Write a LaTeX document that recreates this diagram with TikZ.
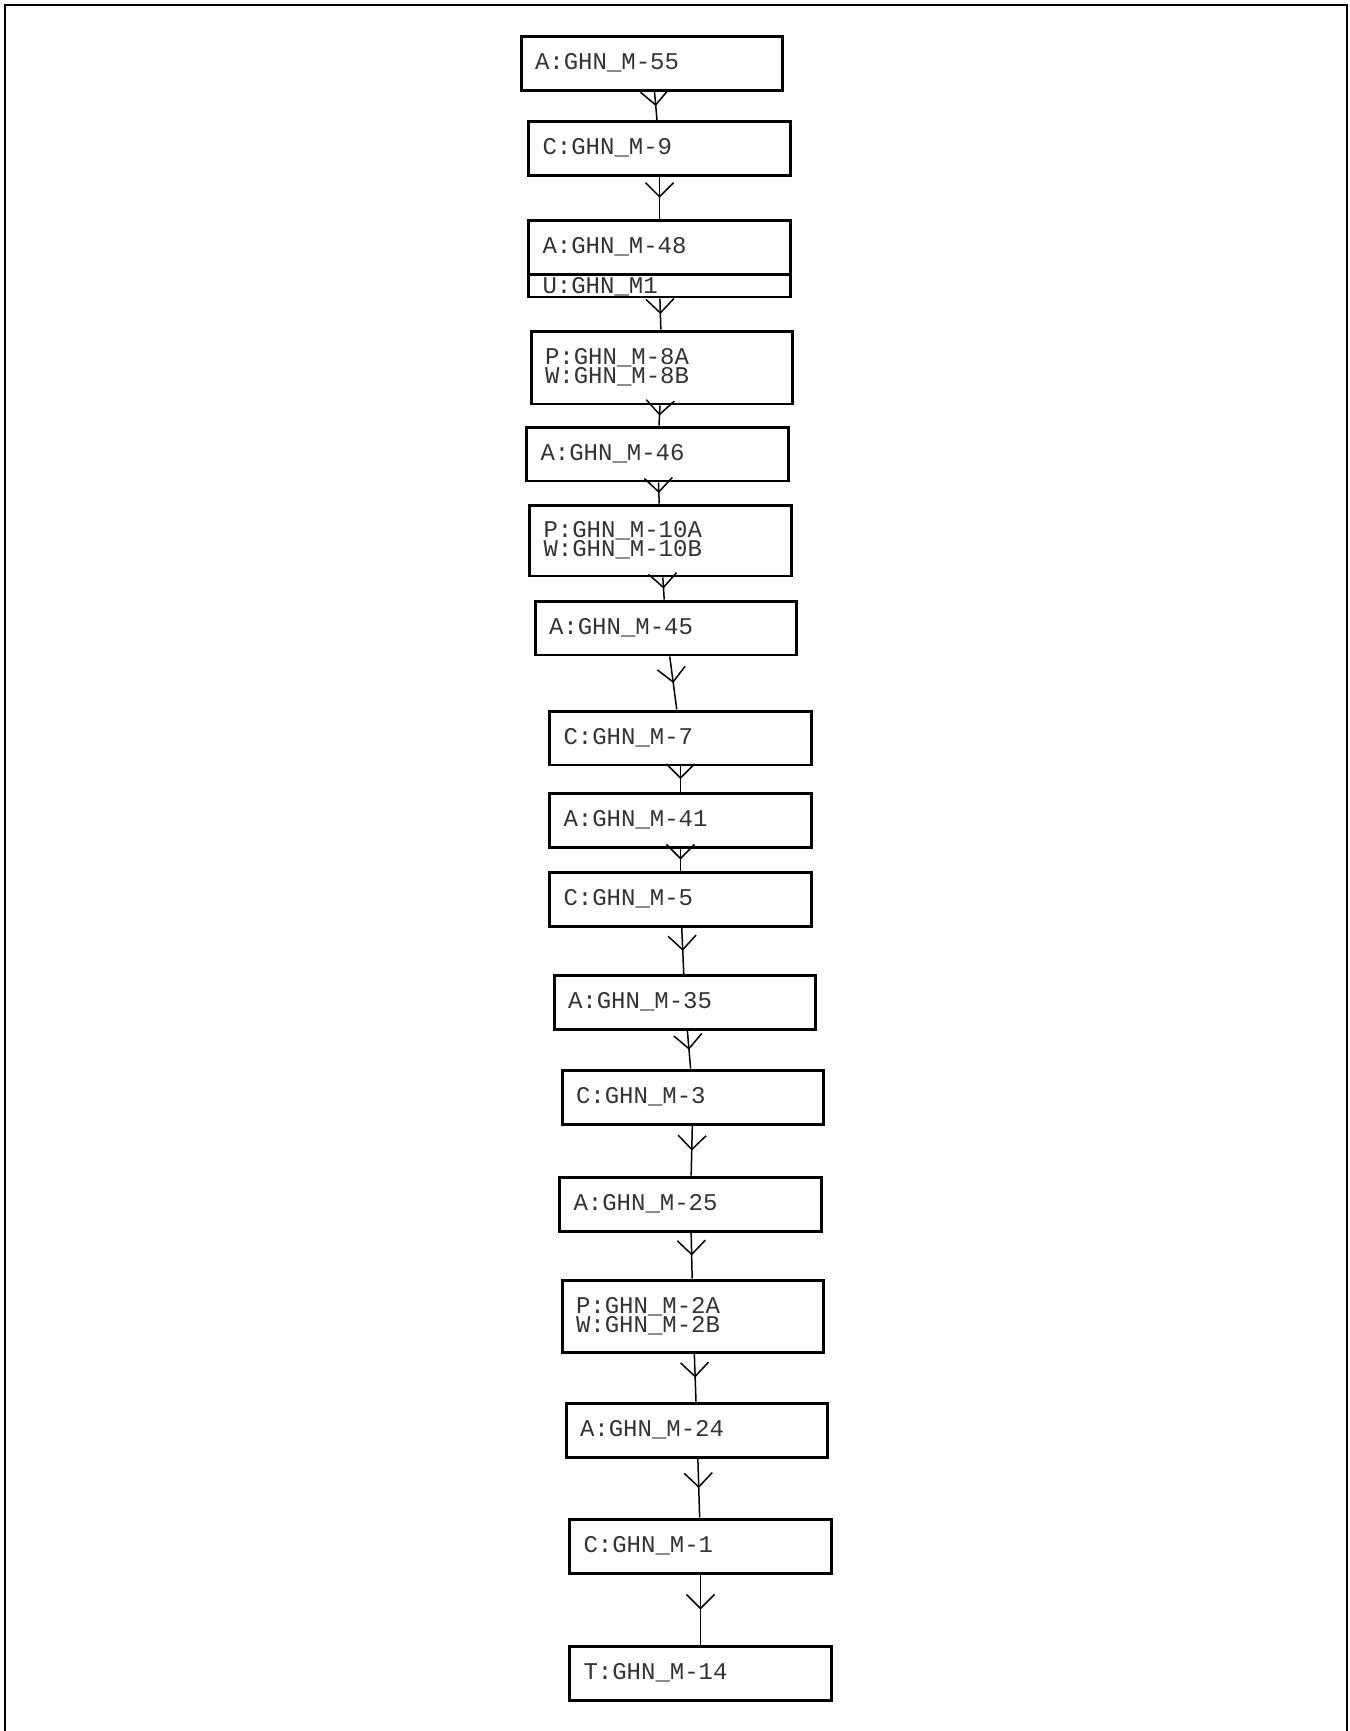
\documentclass[tikz,border=0pt]{standalone}
\usepackage{fontspec}
\setmonofont{Liberation Mono}
\usetikzlibrary{arrows.meta,decorations.markings}

\begin{document}
\begin{tikzpicture}[x=0.02cm, y=-0.02cm,
        box/.style={draw, rectangle, line width=1.7pt, minimum width=5.24cm,
            inner xsep=0.28cm, inner ysep=0pt, text width=4.68cm, align=left, text=black!80,
            font=\ttfamily\fontsize{13.66pt}{10.8pt}\selectfont,
            execute at begin node={\lineskiplimit=-20pt\relax}},
        onebox/.style={box, minimum height=1.08cm, text height=0.25cm, text depth=0cm},
        twobox/.style={box, minimum height=1.44cm},
        subbox/.style={box, minimum height=0.46cm, text height=0.32cm, text depth=0cm},
        link/.style={line width=0.85pt, postaction={decorate},
            decoration={markings, mark=at position 0.5 with
                {\arrow{Straight Barb[length=0.28cm, width=0.56cm, line width=0.85pt]}}}}]
    \useasboundingbox (0,0) rectangle (1349,1731);

    % Outer frame
    \draw[line width=1pt] (5,1731) -- (5,5) -- (1347,5) -- (1347,1731);

    % Boxes, top to bottom
    \node[onebox] (a55) at (652,63.5) {A:GHN\_M-55};
    \node[onebox] (c9) at (659.5,148.5) {C:GHN\_M-9};
    \node[onebox] (a48) at (659.5,247) {A:GHN\_M-48};
    \node[subbox] (u1) at (659.5,285.5) {U:GHN\_M1};
    \node[twobox, minimum height=1.46cm] (p8) at (662,367.5) {P:GHN\_M-8A\\W:GHN\_M-8B};
    \node[onebox] (a46) at (657.5,454) {A:GHN\_M-46};
    \node[twobox, minimum height=1.42cm] (p10) at (660.5,540.5) {P:GHN\_M-10A\\W:GHN\_M-10B};
    \node[onebox] (a45) at (666,628) {A:GHN\_M-45};
    \node[onebox] (c7) at (680.5,738) {C:GHN\_M-7};
    \node[onebox] (a41) at (680.5,820) {A:GHN\_M-41};
    \node[onebox] (c5) at (680.5,899) {C:GHN\_M-5};
    \node[onebox] (a35) at (685,1002.5) {A:GHN\_M-35};
    \node[onebox] (c3) at (693,1097) {C:GHN\_M-3};
    \node[onebox] (a25) at (690.5,1204) {A:GHN\_M-25};
    \node[twobox] (p2) at (693,1316) {P:GHN\_M-2A\\W:GHN\_M-2B};
    \node[onebox] (a24) at (697,1430) {A:GHN\_M-24};
    \node[onebox] (c1) at (700.5,1546) {C:GHN\_M-1};
    \node[onebox] (t14) at (700.5,1673) {T:GHN\_M-14};

    % Connectors
    \draw[link] (a55) -- (c9);
    \draw[link] (c9) -- (a48);
    \draw[link] (u1) -- (p8);
    \draw[link] (p8) -- (a46);
    \draw[link] (a46) -- (p10);
    \draw[link] (p10) -- (a45);
    \draw[link] (a45) -- (c7);
    \draw[link] (c7) -- (a41);
    \draw[link] (a41) -- (c5);
    \draw[link] (c5) -- (a35);
    \draw[link] (a35) -- (c3);
    \draw[link] (c3) -- (a25);
    \draw[link] (a25) -- (p2);
    \draw[link] (p2) -- (a24);
    \draw[link] (a24) -- (c1);
    \draw[link] (c1) -- (t14);
\end{tikzpicture}
\end{document}
